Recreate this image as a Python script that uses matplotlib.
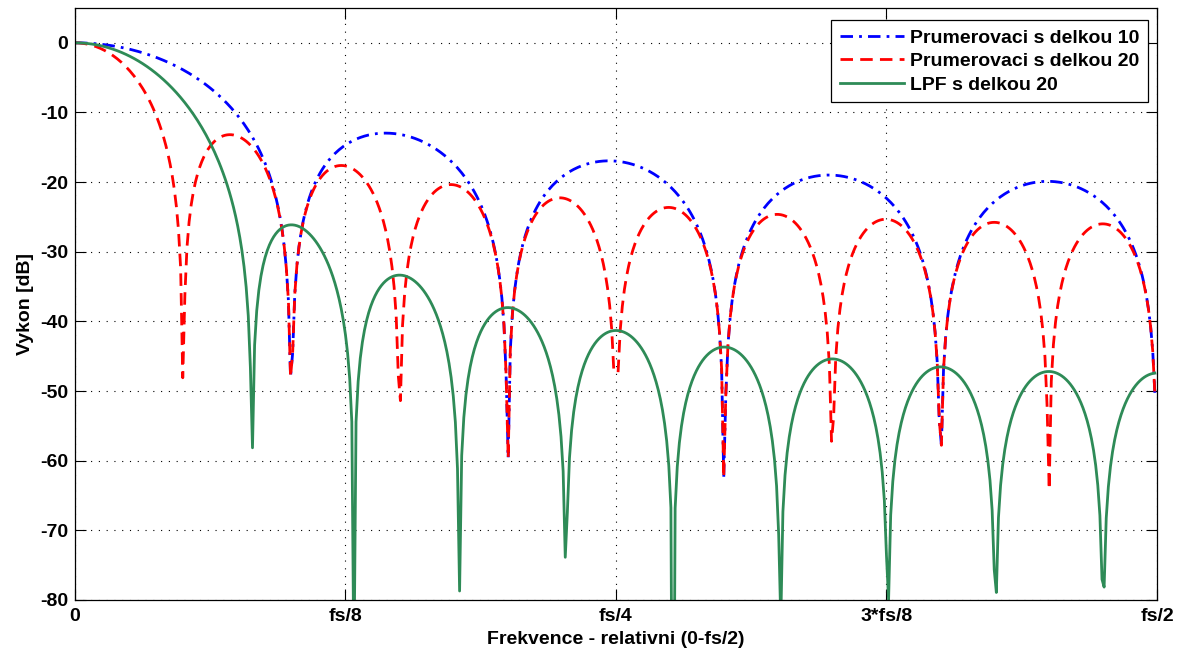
import numpy as np
import matplotlib.pyplot as plt

plt.rcParams['font.family'] = ['Liberation Sans', 'DejaVu Sans']
plt.rcParams['font.weight'] = 'bold'
plt.rcParams['axes.unicode_minus'] = False

# filter taps
avg10 = [0.1] * 10
avg20 = [0.05] * 20
lpf20 = [0.0, 0.1092924, 0.2338723, 0.3678830, 0.5045512, 0.6366198,
         0.7568267, 0.8583885, 0.9354893, 0.9836316, 1.0,
         0.9836316, 0.9354893, 0.8583885, 0.7568267, 0.6366198,
         0.5045512, 0.3678830, 0.2338723, 0.1092924, 0.0]

series_labels = ['Prumerovaci s delkou 10', 'Prumerovaci s delkou 20',
                 'LPF s delkou 20']
xtick_labels = ['0', 'fs/8', 'fs/4', '3*fs/8', 'fs/2']
ytick_values = [-80, -70, -60, -50, -40, -30, -20, -10, 0]

nfft = 512


def response_db(b):
    # same grid as freqz(b, 1, 512), DC gain normalised to 1
    b = np.asarray(b, dtype=float)
    b = b / b.sum()
    mag = np.abs(np.fft.fft(b, 2 * nfft)[:nfft])
    mag[mag < 1e-12] = np.nan  # exact zeros -> gap like -Inf
    return 20 * np.log10(mag)


x = np.arange(nfft) / nfft  # 0 .. fs/2 mapped to 0 .. 1

fig = plt.figure(figsize=(11.79, 6.55), dpi=100)
ax = fig.add_axes([0.0636, 0.084, 0.9177, 0.9038])

ax.plot(x, response_db(avg10), color='#0000ff', lw=2, linestyle='-.',
        dashes=(4.5, 2.2, 1, 2.2), label=series_labels[0])
ax.plot(x, response_db(avg20), color='#ff0000', lw=2, linestyle='--',
        dashes=(4.5, 2.6), label=series_labels[1])
ax.plot(x, response_db(lpf20), color='#2e8b57', lw=2,
        label=series_labels[2])

ax.set_xlim(0, 1)
ax.set_ylim(-80, 5)
ax.set_xticks([0, 0.25, 0.5, 0.75, 1])
ax.set_xticklabels(xtick_labels)
ax.set_yticks(ytick_values)

ax.grid(True, color='black', linestyle=(0, (1, 6)), linewidth=0.8)
ax.tick_params(direction='in', length=8, width=0.8, top=True, right=True,
               labelsize=14)
ax.tick_params(axis='x', pad=6)
ax.tick_params(axis='y', pad=5)
for s in ax.spines.values():
    s.set_linewidth(0.9)

ax.set_xlabel('Frekvence - relativni (0-fs/2)', fontsize=14, fontweight='bold',
              labelpad=4)
ax.set_ylabel('Vykon [dB]', fontsize=14, fontweight='bold', labelpad=4)

leg = ax.legend(loc='upper right', bbox_to_anchor=(0.9917, 0.979),
                fontsize=14, handlelength=3.3, handletextpad=0.3,
                borderpad=0.45, labelspacing=0.3, fancybox=False,
                framealpha=1, borderaxespad=0)
leg.get_frame().set_edgecolor('black')
leg.get_frame().set_linewidth(0.9)
for t in leg.get_texts():
    t.set_fontweight('bold')

fig.savefig('out.png', dpi=100, facecolor='white')
